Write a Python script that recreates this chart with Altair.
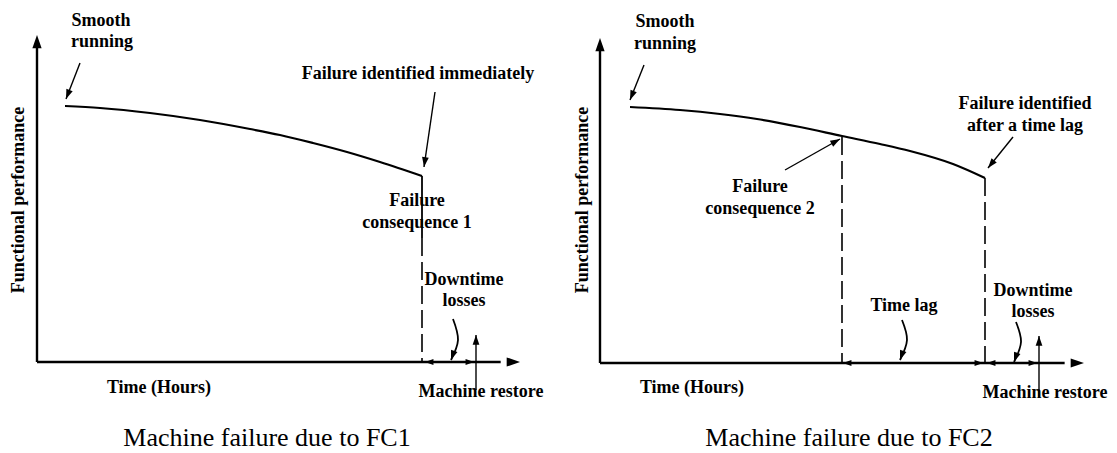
import math
import altair as alt
import pandas as pd

# ---------------- data (schematic coordinates: x to the right, y downward) -------------
# Performance curves of the two panels
curve1_x = [65, 100, 150, 200, 250, 280, 313, 347, 380, 422]
curve1_y = [106, 108, 113, 120, 129, 135, 143, 152, 162, 176]
curve2_x = [630, 680, 720, 757, 800, 842, 880, 910, 953, 985]
curve2_y = [107, 110, 114, 119, 127, 136, 144, 151, 164, 178]

# Axes (start -> arrow tip)
axis_x0 = [37, 37, 600, 600]
axis_y0 = [362, 362, 363, 363]
axis_x1 = [37, 520, 600, 1084]
axis_y1 = [35, 362, 38, 363]

# Failure instants: solid drop and dashed guides
solid_x = [422]
solid_y0 = [176]
solid_y1 = [238]
dash_x = [422, 842, 985]
dash_y0 = [238, 137, 178]
dash_y1 = [362, 363, 363]

# Straight annotation arrows (start -> tip)
arr_x0 = [80, 435, 644, 785, 1013, 476, 1039]
arr_y0 = [63, 92, 65, 170, 137, 390, 398]
arr_x1 = [66, 424, 630, 840, 988, 476, 1039]
arr_y1 = [99, 167, 100, 139, 168, 335, 336]

# Curved annotation arrows (3 points each, last is the tip)
carr_id = ["dl1", "dl1", "dl1", "tl2", "tl2", "tl2", "dl2", "dl2", "dl2"]
carr_x = [453, 458, 451, 902, 907, 900, 1016, 1021, 1014]
carr_y = [319, 340, 360, 320, 340, 360, 322, 342, 362]

# Interval arrow heads lying on the time axes (tip, direction)
iv_x = [425, 474, 843, 983, 987, 1037]
iv_y = [362, 362, 363, 363, 363, 363]
iv_dir = ["left", "right", "left", "right", "left", "right"]

# Bold labels
lab_text = ["Smooth", "running", "Failure identified immediately", "Failure",
            "consequence 1", "Downtime", "losses", "Machine restore", "Time (Hours)",
            "Smooth", "running", "Failure identified", "after a time lag", "Failure",
            "consequence 2", "Time lag", "Downtime", "losses", "Machine restore",
            "Time (Hours)"]
lab_x = [101, 102, 418, 417, 417, 464, 464, 481, 159,
         665, 665, 1025, 1025, 760, 760, 904, 1033, 1033, 1045, 692]
lab_y = [26, 47, 79, 206, 228, 285, 306, 397, 393,
         27, 49, 109, 131, 192, 214, 311, 296, 317, 398, 393]

ylab_text = ["Functional performance", "Functional performance"]
ylab_x = [19, 583]
ylab_y = [200, 200]

cap_text = ["Machine failure due to FC1", "Machine failure due to FC2"]
cap_x = [267, 849]
cap_y = [446, 446]

# ---------------- helpers -------------
DIRS = {"up": 0, "right": 90, "down": 180, "left": 270}


def head_angle(x0, y0, x1, y1):
    return math.degrees(math.atan2(x1 - x0, -(y1 - y0))) % 360


HEAD = "M0,0 L0.45,1.3 L-0.45,1.3 Z"

W, H = 1101, 445
xs = alt.Scale(domain=[8, 8 + W], nice=False, zero=False)
ys = alt.Scale(domain=[8, 8 + H], nice=False, zero=False, reverse=True)


def X(f="x"):
    return alt.X(f"{f}:Q", scale=xs, axis=None)


def Y(f="y"):
    return alt.Y(f"{f}:Q", scale=ys, axis=None)


# ---------------- tables -------------
curve_df = pd.DataFrame({
    "x": curve1_x + curve2_x,
    "y": curve1_y + curve2_y,
    "panel": ["FC1"] * len(curve1_x) + ["FC2"] * len(curve2_x),
    "i": list(range(len(curve1_x))) + list(range(len(curve2_x))),
})

axis_df = pd.DataFrame({"x": axis_x0, "y": axis_y0})
axis_df["x2"] = [a + (b - a) * 0.96 if a != b else a for a, b in zip(axis_x0, axis_x1)]
axis_df["y2"] = [a + (b - a) * 0.97 if a != b else a for a, b in zip(axis_y0, axis_y1)]
axis_head_df = pd.DataFrame({
    "x": axis_x1, "y": axis_y1,
    "a": [head_angle(a, b, c, d) for a, b, c, d in zip(axis_x0, axis_y0, axis_x1, axis_y1)],
})

solid_df = pd.DataFrame({"x": solid_x, "y": solid_y0, "y2": solid_y1})
dash_df = pd.DataFrame({"x": dash_x, "y": dash_y0, "y2": dash_y1})

arr_df = pd.DataFrame({"x": arr_x0, "y": arr_y0, "x2": arr_x1, "y2": arr_y1})
arr_head_df = pd.DataFrame({
    "x": arr_x1, "y": arr_y1,
    "a": [head_angle(a, b, c, d) for a, b, c, d in zip(arr_x0, arr_y0, arr_x1, arr_y1)],
})

carr_df = pd.DataFrame({"id": carr_id, "x": carr_x, "y": carr_y,
                        "i": [0, 1, 2] * (len(carr_x) // 3)})
carr_head_df = pd.DataFrame({
    "x": carr_x[2::3], "y": carr_y[2::3],
    "a": [head_angle(carr_x[k + 1], carr_y[k + 1], carr_x[k + 2], carr_y[k + 2])
          for k in range(0, len(carr_x), 3)],
})

iv_df = pd.DataFrame({"x": iv_x, "y": iv_y, "a": [DIRS[d] for d in iv_dir]})

lab_df = pd.DataFrame({"t": lab_text, "x": lab_x, "y": lab_y})
ylab_df = pd.DataFrame({"t": ylab_text, "x": ylab_x, "y": ylab_y})
cap_df = pd.DataFrame({"t": cap_text, "x": cap_x, "y": cap_y})

# ---------------- layers -------------
curves = alt.Chart(curve_df).mark_line(color="black", strokeWidth=2.2, interpolate="monotone").encode(
    x=X(), y=Y(), detail="panel:N", order="i:Q")

axes = alt.Chart(axis_df).mark_rule(color="black", strokeWidth=2.4).encode(
    x=X(), y=Y(), x2=alt.X2("x2:Q"), y2=alt.Y2("y2:Q"))
axis_heads = alt.Chart(axis_head_df).mark_point(
    shape=HEAD, filled=True, color="black", opacity=1, strokeWidth=0, size=420).encode(
    x=X(), y=Y(), angle=alt.Angle("a:Q", scale=None))

solid = alt.Chart(solid_df).mark_rule(color="black", strokeWidth=1.8).encode(
    x=X(), y=Y(), y2=alt.Y2("y2:Q"))
dashed = alt.Chart(dash_df).mark_rule(color="black", strokeWidth=1.6, strokeDash=[18, 6]).encode(
    x=X(), y=Y(), y2=alt.Y2("y2:Q"))

arrows = alt.Chart(arr_df).mark_rule(color="black", strokeWidth=1.4).encode(
    x=X(), y=Y(), x2=alt.X2("x2:Q"), y2=alt.Y2("y2:Q"))
arrow_heads = alt.Chart(arr_head_df).mark_point(
    shape=HEAD, filled=True, color="black", opacity=1, strokeWidth=0, size=225).encode(
    x=X(), y=Y(), angle=alt.Angle("a:Q", scale=None))

carrows = alt.Chart(carr_df).mark_line(color="black", strokeWidth=1.8, interpolate="cardinal").encode(
    x=X(), y=Y(), detail="id:N", order="i:Q")
carrow_heads = alt.Chart(carr_head_df).mark_point(
    shape=HEAD, filled=True, color="black", opacity=1, strokeWidth=0, size=225).encode(
    x=X(), y=Y(), angle=alt.Angle("a:Q", scale=None))

iv_heads = alt.Chart(iv_df).mark_point(
    shape=HEAD, filled=True, color="black", opacity=1, strokeWidth=0, size=169).encode(
    x=X(), y=Y(), angle=alt.Angle("a:Q", scale=None))

labels = alt.Chart(lab_df).mark_text(
    font="Liberation Serif", fontWeight="bold", fontSize=18, color="black",
    align="center", baseline="alphabetic").encode(x=X(), y=Y(), text="t:N")

ylabels = alt.Chart(ylab_df).mark_text(
    font="Liberation Serif", fontWeight="bold", fontSize=18, color="black",
    align="center", baseline="middle", angle=270).encode(x=X(), y=Y(), text="t:N")

captions = alt.Chart(cap_df).mark_text(
    font="Liberation Serif", fontSize=26, color="black",
    align="center", baseline="alphabetic").encode(x=X(), y=Y(), text="t:N")

chart = alt.layer(
    curves, axes, axis_heads, solid, dashed, arrows, arrow_heads,
    carrows, carrow_heads, iv_heads, labels, ylabels, captions
).properties(
    width=W, height=H, padding=0,
    autosize=alt.AutoSizeParams(type="none"),
    background="white",
).configure_view(stroke=None)

chart.save("out.html", embed_options={"renderer": "svg", "actions": False})
